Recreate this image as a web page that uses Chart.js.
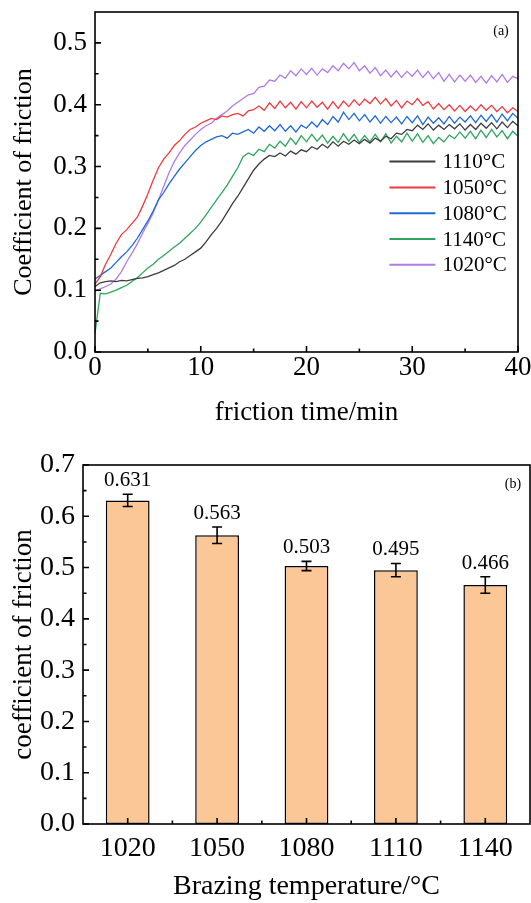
<!DOCTYPE html>
<html>
<head>
<meta charset="utf-8">
<script src="https://cdn.jsdelivr.net/npm/chart.js"></script>
<style>
    html, body { margin: 0; padding: 0; background: #fff; }
    #wrap { position: relative; width: 531px; height: 903px; overflow: hidden; }
    #lineChart { position: absolute; left: 0; top: 0; }
    #barChart { position: absolute; left: 0; top: 440px; }
</style>
</head>
<body>
<div id="wrap">
    <canvas id="lineChart" width="531" height="440"></canvas>
    <canvas id="barChart" width="531" height="463"></canvas>
</div>
<script>
// (a) friction curves, every 0.5 min
const timeMin = [0, 0.5, 1, 1.5, 2, 2.5, 3, 3.5, 4, 4.5, 5, 5.5, 6, 6.5, 7, 7.5, 8, 8.5, 9, 9.5,
    10, 10.5, 11, 11.5, 12, 12.5, 13, 13.5, 14, 14.5, 15, 15.5, 16, 16.5, 17, 17.5, 18, 18.5, 19, 19.5,
    20, 20.5, 21, 21.5, 22, 22.5, 23, 23.5, 24, 24.5, 25, 25.5, 26, 26.5, 27, 27.5, 28, 28.5, 29, 29.5,
    30, 30.5, 31, 31.5, 32, 32.5, 33, 33.5, 34, 34.5, 35, 35.5, 36, 36.5, 37, 37.5, 38, 38.5, 39, 39.5, 40];

const cof1110 = [0.106, 0.112, 0.114, 0.115, 0.114, 0.116, 0.115, 0.117, 0.119, 0.120,
    0.122, 0.125, 0.128, 0.132, 0.136, 0.140, 0.146, 0.150, 0.156, 0.162,
    0.168, 0.178, 0.190, 0.200, 0.212, 0.226, 0.240, 0.252, 0.266, 0.280,
    0.294, 0.304, 0.312, 0.318, 0.316, 0.322, 0.317, 0.325, 0.320, 0.327,
    0.324, 0.332, 0.328, 0.336, 0.330, 0.340, 0.333, 0.341, 0.336, 0.343,
    0.337, 0.344, 0.338, 0.346, 0.341, 0.349, 0.345, 0.354, 0.352, 0.360,
    0.358, 0.367, 0.360, 0.369, 0.359, 0.367, 0.360, 0.368, 0.361, 0.369,
    0.359, 0.368, 0.360, 0.370, 0.362, 0.371, 0.361, 0.372, 0.363, 0.373, 0.366];

const cof1050 = [0.110, 0.122, 0.142, 0.158, 0.176, 0.190, 0.198, 0.208, 0.218, 0.236,
    0.256, 0.278, 0.298, 0.312, 0.322, 0.334, 0.342, 0.352, 0.360, 0.364,
    0.370, 0.374, 0.378, 0.376, 0.382, 0.380, 0.384, 0.386, 0.382, 0.390,
    0.392, 0.398, 0.391, 0.403, 0.394, 0.406, 0.395, 0.404, 0.393, 0.405,
    0.395, 0.406, 0.396, 0.404, 0.393, 0.405, 0.394, 0.406, 0.397, 0.408,
    0.399, 0.409, 0.402, 0.412, 0.401, 0.410, 0.398, 0.407, 0.395, 0.406,
    0.400, 0.410, 0.399, 0.405, 0.393, 0.402, 0.392, 0.400, 0.390, 0.399,
    0.389, 0.398, 0.390, 0.400, 0.391, 0.399, 0.389, 0.397, 0.387, 0.395, 0.389];

const cof1080 = [0.118, 0.124, 0.130, 0.136, 0.145, 0.154, 0.162, 0.172, 0.184, 0.198,
    0.212, 0.228, 0.246, 0.258, 0.272, 0.284, 0.296, 0.306, 0.316, 0.326,
    0.334, 0.340, 0.344, 0.348, 0.350, 0.346, 0.354, 0.352, 0.356, 0.360,
    0.354, 0.364, 0.357, 0.366, 0.358, 0.368, 0.357, 0.366, 0.356, 0.367,
    0.362, 0.372, 0.364, 0.376, 0.368, 0.381, 0.372, 0.388, 0.376, 0.386,
    0.374, 0.384, 0.372, 0.382, 0.370, 0.381, 0.371, 0.380, 0.369, 0.381,
    0.371, 0.382, 0.368, 0.380, 0.370, 0.379, 0.369, 0.381, 0.370, 0.380,
    0.372, 0.382, 0.371, 0.383, 0.373, 0.384, 0.372, 0.385, 0.374, 0.386, 0.378];

const cof1140 = [0.030, 0.095, 0.094, 0.097, 0.100, 0.104, 0.108, 0.114, 0.120, 0.128,
    0.136, 0.142, 0.150, 0.156, 0.163, 0.170, 0.176, 0.184, 0.192, 0.200,
    0.210, 0.222, 0.234, 0.246, 0.258, 0.270, 0.284, 0.298, 0.316, 0.322,
    0.318, 0.328, 0.324, 0.336, 0.330, 0.341, 0.333, 0.346, 0.336, 0.350,
    0.340, 0.352, 0.341, 0.351, 0.338, 0.349, 0.339, 0.353, 0.341, 0.352,
    0.339, 0.350, 0.340, 0.352, 0.340, 0.353, 0.338, 0.349, 0.340, 0.354,
    0.341, 0.353, 0.339, 0.350, 0.337, 0.347, 0.340, 0.351, 0.345, 0.356,
    0.346, 0.357, 0.345, 0.359, 0.347, 0.360, 0.348, 0.358, 0.345, 0.357, 0.349];

const cof1020 = [0.098, 0.102, 0.106, 0.110, 0.118, 0.130, 0.146, 0.160, 0.175, 0.192,
    0.208, 0.225, 0.246, 0.268, 0.290, 0.308, 0.322, 0.334, 0.343, 0.352,
    0.360, 0.366, 0.370, 0.378, 0.384, 0.390, 0.398, 0.404, 0.410, 0.416,
    0.418, 0.428, 0.430, 0.440, 0.438, 0.448, 0.443, 0.455, 0.447, 0.458,
    0.449, 0.459, 0.448, 0.458, 0.452, 0.463, 0.455, 0.467, 0.458, 0.468,
    0.455, 0.463, 0.451, 0.460, 0.447, 0.456, 0.445, 0.455, 0.444, 0.454,
    0.446, 0.456, 0.444, 0.454, 0.442, 0.452, 0.438, 0.449, 0.437, 0.448,
    0.438, 0.448, 0.436, 0.446, 0.435, 0.447, 0.437, 0.449, 0.436, 0.446, 0.442];

const seriesNames = ['1110°C', '1050°C', '1080°C', '1140°C', '1020°C'];
const seriesData = [cof1110, cof1050, cof1080, cof1140, cof1020];
const lineXTicks = [0, 10, 20, 30, 40];
const lineXMinor = [5, 15, 25, 35];
const lineYTicks = [0, 0.1, 0.2, 0.3, 0.4, 0.5];
const lineYMinor = [0.05, 0.15, 0.25, 0.35, 0.45];

// (b) mean coefficient of friction per brazing temperature
const brazingTemp = [1020, 1050, 1080, 1110, 1140];
const meanCof = [0.631, 0.563, 0.503, 0.495, 0.466];
const cofError = [0.012, 0.016, 0.009, 0.013, 0.016];
const barXMinor = [1035, 1065, 1095, 1125];
const barYTicks = [0, 0.1, 0.2, 0.3, 0.4, 0.5, 0.6, 0.7];
const barYMinor = [0.05, 0.15, 0.25, 0.35, 0.45, 0.55, 0.65];

const lineColors = ['#3d3d3d', '#ee3b3f', '#1f68d8', '#2ea65d', '#b07ce8'];
const SERIF = '"Liberation Serif", "Times New Roman", serif';

// force axis box size and drop the label overflow padding
const fixScale = (w, h) => (scale) => {
    if (w !== undefined) scale.width = w;
    if (h !== undefined) scale.height = h;
    scale.paddingTop = 0;
    scale.paddingBottom = 0;
    scale.paddingLeft = 0;
    scale.paddingRight = 0;
};
const setTicks = (vals) => (scale) => {
    scale.ticks = vals.map(v => ({value: v}));
};

// Origin-like frame: box, inward ticks, panel tag
const originFrame = {
    id: 'originFrame',
    afterDraw(chart, args, opts) {
        const {ctx, chartArea: a, scales: {x, y}} = chart;
        ctx.save();
        ctx.strokeStyle = '#000';
        ctx.lineWidth = 1.6;
        ctx.beginPath();
        x.ticks.forEach(t => {
            const px = x.getPixelForValue(t.value);
            ctx.moveTo(px, a.bottom);
            ctx.lineTo(px, a.bottom - opts.major);
        });
        opts.xMinor.forEach(v => {
            const px = x.getPixelForValue(v);
            ctx.moveTo(px, a.bottom);
            ctx.lineTo(px, a.bottom - opts.minor);
        });
        y.ticks.forEach(t => {
            const py = y.getPixelForValue(t.value);
            ctx.moveTo(a.left, py);
            ctx.lineTo(a.left + opts.major, py);
        });
        opts.yMinor.forEach(v => {
            const py = y.getPixelForValue(v);
            ctx.moveTo(a.left, py);
            ctx.lineTo(a.left + opts.minor, py);
        });
        ctx.stroke();
        ctx.strokeRect(a.left, a.top, a.right - a.left, a.bottom - a.top);

        ctx.fillStyle = '#000';
        ctx.font = '14px ' + SERIF;
        ctx.textAlign = 'center';
        ctx.textBaseline = 'middle';
        ctx.fillText(opts.tag, a.right - 17, a.top + 19);
        ctx.restore();
    }
};

// legend box inside panel (a)
const lineLegend = {
    id: 'lineLegend',
    afterDraw(chart) {
        const {ctx, chartArea: a} = chart;
        const x0 = a.left + (a.right - a.left) * 0.696;
        const y0 = a.top + (a.bottom - a.top) * 0.44;
        ctx.save();
        ctx.font = '21px ' + SERIF;
        ctx.textBaseline = 'middle';
        ctx.fillStyle = '#000';
        chart.data.datasets.forEach((ds, i) => {
            const yy = y0 + i * 25.8;
            ctx.strokeStyle = ds.borderColor;
            ctx.lineWidth = 2;
            ctx.beginPath();
            ctx.moveTo(x0, yy);
            ctx.lineTo(x0 + 46, yy);
            ctx.stroke();
            ctx.fillText(ds.label, x0 + 53, yy + 1);
        });
        ctx.restore();
    }
};

// error bars and value labels for panel (b)
const barErrors = {
    id: 'barErrors',
    afterDatasetsDraw(chart) {
        const {ctx, scales: {x, y}} = chart;
        ctx.save();
        ctx.strokeStyle = '#000';
        ctx.lineWidth = 1.6;
        ctx.fillStyle = '#000';
        ctx.font = '21px ' + SERIF;
        ctx.textAlign = 'center';
        ctx.textBaseline = 'alphabetic';
        brazingTemp.forEach((t, i) => {
            const px = x.getPixelForValue(t);
            const hi = y.getPixelForValue(meanCof[i] + cofError[i]);
            const lo = y.getPixelForValue(meanCof[i] - cofError[i]);
            ctx.beginPath();
            ctx.moveTo(px, hi);
            ctx.lineTo(px, lo);
            ctx.moveTo(px - 5, hi);
            ctx.lineTo(px + 5, hi);
            ctx.moveTo(px - 5, lo);
            ctx.lineTo(px + 5, lo);
            ctx.stroke();
            ctx.fillText(meanCof[i].toFixed(3), px, hi - 8);
        });
        ctx.restore();
    }
};

const lineConfig = {
    type: 'line',
    data: {
        datasets: seriesData.map((s, i) => ({
            label: seriesNames[i],
            data: timeMin.map((t, k) => ({x: t, y: s[k]})),
            borderColor: lineColors[i],
            borderWidth: 1.3,
            pointRadius: 0,
            tension: 0
        }))
    },
    options: {
        responsive: false,
        animation: false,
        devicePixelRatio: 1,
        layout: {padding: {left: 0, right: 13, top: 12, bottom: 0}},
        plugins: {
            legend: {display: false},
            tooltip: {enabled: false},
            originFrame: {tag: '(a)', xMinor: lineXMinor, yMinor: lineYMinor, major: 6, minor: 3.5}
        },
        scales: {
            x: {
                type: 'linear',
                min: 0,
                max: 40,
                grid: {display: false, drawTicks: false},
                border: {display: false},
                afterBuildTicks: setTicks(lineXTicks),
                afterFit: fixScale(undefined, 88),
                ticks: {padding: 0, color: '#000', font: {family: SERIF, size: 27}, callback: v => String(v)},
                title: {display: true, text: 'friction time/min', color: '#000',
                    font: {family: SERIF, size: 27}, padding: {top: 0, bottom: 11}}
            },
            y: {
                min: 0,
                max: 0.55,
                grid: {display: false, drawTicks: false},
                border: {display: false},
                afterBuildTicks: setTicks(lineYTicks),
                afterFit: fixScale(95, undefined),
                ticks: {padding: 8, color: '#000', font: {family: SERIF, size: 27}, callback: v => v.toFixed(1)},
                title: {display: true, text: 'Coefficient of friction', color: '#000',
                    font: {family: SERIF, size: 26}, padding: {top: 9, bottom: 0}}
            }
        }
    },
    plugins: [originFrame, lineLegend]
};

const barConfig = {
    type: 'bar',
    data: {
        datasets: [{
            data: brazingTemp.map((t, i) => ({x: t, y: meanCof[i]})),
            backgroundColor: '#fbc796',
            borderColor: '#000',
            borderWidth: 1.5,
            borderSkipped: false,
            categoryPercentage: 1,
            barPercentage: 0.49
        }]
    },
    options: {
        responsive: false,
        animation: false,
        devicePixelRatio: 1,
        layout: {padding: {left: 0, right: 1, top: 25, bottom: 0}},
        plugins: {
            legend: {display: false},
            tooltip: {enabled: false},
            originFrame: {tag: '(b)', xMinor: barXMinor, yMinor: barYMinor, major: 6, minor: 3.5}
        },
        scales: {
            x: {
                type: 'linear',
                min: 1005,
                max: 1155,
                offset: false,
                grid: {display: false, drawTicks: false},
                border: {display: false},
                afterBuildTicks: setTicks(brazingTemp),
                afterFit: fixScale(undefined, 79),
                ticks: {padding: 8, color: '#000', font: {family: SERIF, size: 28}, callback: v => String(v)},
                title: {display: true, text: 'Brazing temperature/°C', color: '#000',
                    font: {family: SERIF, size: 28}, padding: {top: 0, bottom: 0}}
            },
            y: {
                min: 0,
                max: 0.7,
                grid: {display: false, drawTicks: false},
                border: {display: false},
                afterBuildTicks: setTicks(barYTicks),
                afterFit: fixScale(83, undefined),
                ticks: {padding: 8, color: '#000', font: {family: SERIF, size: 28}, callback: v => v.toFixed(1)},
                title: {display: true, text: 'coefficient of friction', color: '#000',
                    font: {family: SERIF, size: 27}, padding: {top: 8, bottom: 0}}
            }
        }
    },
    plugins: [originFrame, barErrors]
};

var lineChart = new Chart(document.getElementById('lineChart'), lineConfig);
var barChart = new Chart(document.getElementById('barChart'), barConfig);
</script>
</body>
</html>
